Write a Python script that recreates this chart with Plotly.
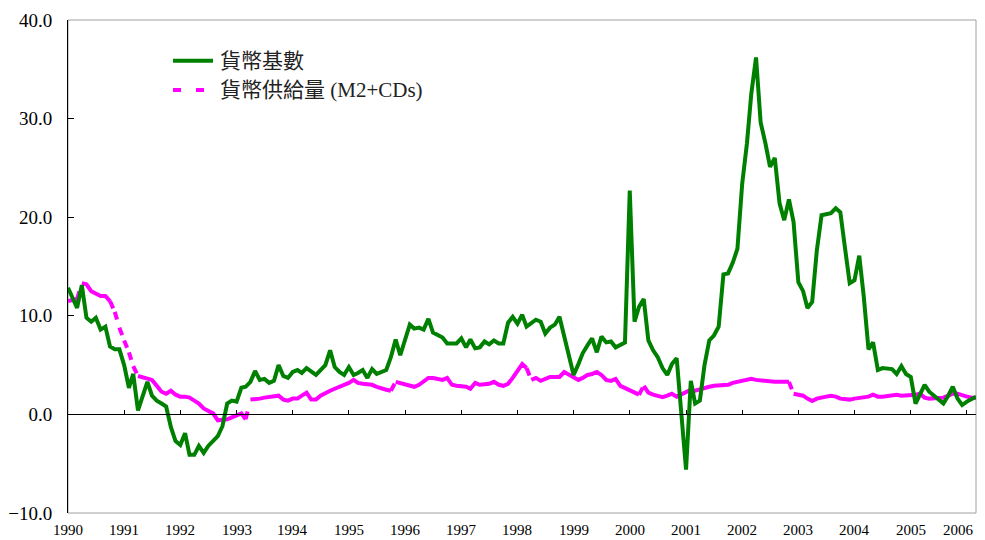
import math
import pandas as pd
import plotly.graph_objects as go

# ---------------- data (monthly, Jan 1990 - Mar 2006, % yoy) ----------------
base_money = [
    12.85, 11.8, 10.8, 13.1, 9.8, 9.4, 9.8, 8.6, 8.9, 6.9, 6.6, 6.6,          # 1990
    5.0, 2.7, 4.1, 0.4, 1.9, 3.3, 1.9, 1.4, 1.1, 0.8, -1.3, -2.7,             # 1991
    -3.1, -1.9, -4.1, -4.1, -3.2, -3.9, -3.2, -2.7, -2.2, -1.2, 1.1, 1.4,    # 1992
    1.3, 2.7, 2.8, 3.3, 4.4, 3.5, 3.6, 3.2, 3.4, 5.0, 3.9, 3.7,              # 1993
    4.3, 4.5, 4.2, 4.7, 4.3, 4.0, 4.5, 5.0, 6.5, 4.8, 4.3, 4.0,              # 1994
    4.8, 4.0, 4.2, 4.5, 3.7, 4.6, 4.1, 4.3, 4.5, 5.8, 7.6, 6.0,              # 1995
    7.6, 9.1, 8.7, 8.8, 8.6, 9.7, 8.3, 8.0, 7.8, 7.2, 7.2, 7.2,              # 1996
    7.7, 6.8, 7.6, 6.7, 6.8, 7.4, 7.1, 7.5, 7.2, 7.2, 9.3, 9.9,              # 1997
    9.2, 10.1, 8.9, 9.3, 9.6, 9.4, 8.2, 8.8, 9.1, 9.9, 7.9, 5.9,             # 1998
    4.0, 5.1, 6.2, 7.0, 7.7, 6.3, 7.9, 7.3, 7.4, 6.8, 7.0, 7.3,              # 1999
    22.7, 9.4, 10.9, 11.7, 7.5, 6.5, 5.8, 4.7, 4.0, 5.1, 5.7, 0.1,           # 2000
    -5.6, 3.4, 1.1, 1.4, 5.0, 7.5, 8.0, 8.9, 14.2, 14.3, 15.4, 16.8,         # 2001
    23.4, 27.5, 32.5, 36.2, 29.6, 27.5, 25.1, 26.0, 21.4, 19.7, 21.8, 19.5,  # 2002
    13.4, 12.5, 10.8, 11.4, 16.6, 20.2, 20.3, 20.4, 20.9, 20.5, 16.8, 13.3,  # 2003
    13.6, 16.1, 12.0, 6.6, 7.3, 4.5, 4.7, 4.6, 4.6, 4.1, 4.9, 4.1,           # 2004
    3.8, 1.1, 2.0, 3.0, 2.3, 1.9, 1.4, 1.1, 1.9, 2.8, 1.6, 0.95,             # 2005
    1.3, 1.6, 1.8,                                                            # 2006
]

m2_cds = [
    11.5, 11.6, 11.7, 13.3, 13.2, 12.5, 12.2, 12.0, 12.0, 11.5, 10.4, 8.8,   # 1990
    7.5, 6.3, 4.9, 3.9, 3.8, 3.7, 3.5, 2.9, 2.3, 2.1, 2.4, 2.0,              # 1991
    1.8, 1.8, 1.7, 1.4, 1.1, 0.6, 0.4, 0.1, -0.6, -0.6, -0.5, -0.3,          # 1992
    -0.1, 0.1, -0.5, 1.5, 1.5, 1.6, 1.7, 1.8, 1.9, 1.9, 1.5, 1.4,            # 1993
    1.6, 1.6, 1.9, 2.2, 1.5, 1.5, 1.9, 2.2, 2.4, 2.6, 2.8, 2.9,              # 1994
    3.2, 3.5, 3.2, 3.1, 3.1, 3.0, 2.8, 2.6, 2.5, 2.4, 3.3, 3.2,              # 1995
    3.0, 2.9, 2.8, 3.0, 3.3, 3.7, 3.7, 3.6, 3.5, 3.7, 3.0, 2.9,              # 1996
    2.9, 2.8, 2.6, 3.2, 3.0, 3.0, 3.1, 3.3, 3.0, 2.9, 3.1, 3.7,              # 1997
    4.4, 5.1, 4.7, 3.5, 3.7, 3.4, 3.6, 3.8, 3.8, 3.8, 4.3, 4.0,              # 1998
    3.7, 3.5, 3.7, 4.0, 4.1, 4.3, 4.0, 3.5, 3.4, 3.6, 2.9, 2.7,              # 1999
    2.5, 2.2, 2.0, 2.9, 2.2, 2.0, 1.9, 1.75, 1.9, 2.1, 1.8, 2.0,             # 2000
    2.3, 2.5, 2.4, 2.5, 2.7, 2.8, 2.9, 2.9, 2.9, 3.0, 3.2, 3.3,              # 2001
    3.45, 3.6, 3.6, 3.5, 3.45, 3.4, 3.3, 3.3, 3.3, 3.3, 3.3, 2.1,            # 2002
    2.0, 1.9, 1.6, 1.35, 1.6, 1.75, 1.8, 1.9, 1.8, 1.6, 1.5, 1.5,            # 2003
    1.6, 1.7, 1.8, 1.8, 2.0, 1.8, 1.8, 1.9, 2.0, 2.0, 1.9, 1.9,              # 2004
    1.9, 2.0, 2.1, 1.7, 1.6, 1.65, 1.7, 1.7, 1.9, 2.1, 2.1, 1.9,             # 2005
    1.8, 1.7, 1.7,                                                            # 2006
]

year_labels = [str(y) for y in range(1990, 2007)]
y_ticks = [-10, 0, 10, 20, 30, 40]

name_base = "貨幣基數"
name_m2 = "貨幣供給量 (M2+CDs)"

# ---------------- styling ----------------
GREEN = "#008000"
MAGENTA = "#ff00ff"
PAGE_OFF = 8                      # default body margin of the html page
W, H = 985 - PAGE_OFF, 540 - PAGE_OFF
ML, MT = 68 - PAGE_OFF, 20 - PAGE_OFF
PW, PH = 908, 493
MR, MB = W - ML - PW, H - MT - PH
Y_MIN, Y_MAX = -10, 40
DASH = "8px,15px"
DASH_ON = 8

dates = pd.date_range("1990-01-01", periods=len(base_money), freq="MS")
x_range = [dates[0], dates[-1]]
tick_dates = [f"{y}-01-01" for y in year_labels]

fig = go.Figure()

# M2+CDs line: dash pattern restarts on each segment (long jumps show gaps)
month_px = PW / (len(m2_cds) - 1)
unit_px = PH / (Y_MAX - Y_MIN)
start = 0
n = len(m2_cds)


def add_piece(i0, i1, dashed):
    fig.add_trace(go.Scatter(
        x=dates[i0:i1 + 1], y=m2_cds[i0:i1 + 1], mode="lines",
        line=dict(color=MAGENTA, width=4, dash=DASH if dashed else "solid"),
        showlegend=False, hoverinfo="skip"))


for k in range(n - 1):
    seg = math.hypot(month_px, (m2_cds[k + 1] - m2_cds[k]) * unit_px)
    if seg > DASH_ON + 2:
        if k > start:
            add_piece(start, k, False)
        add_piece(k, k + 1, True)
        start = k + 1
if start < n - 1:
    add_piece(start, n - 1, False)

# Monetary base
fig.add_trace(go.Scatter(
    x=dates, y=base_money, mode="lines",
    line=dict(color=GREEN, width=4), showlegend=False, hoverinfo="skip"))

# invisible anchor trace for the zero-line axis
fig.add_trace(go.Scatter(
    x=[dates[0]], y=[0], xaxis="x2", mode="markers",
    marker=dict(opacity=0), showlegend=False, hoverinfo="skip"))

serif = "Liberation Serif, Times New Roman, serif"

fig.update_layout(
    width=W, height=H,
    margin=dict(l=ML, r=MR, t=MT, b=MB),
    paper_bgcolor="white", plot_bgcolor="white",
    showlegend=False,
    xaxis=dict(
        type="date", range=x_range, tickvals=tick_dates,
        showticklabels=False,
        ticks="", showline=False, showgrid=False, zeroline=False,
        automargin=False,
    ),
    xaxis2=dict(
        type="date", range=x_range, overlaying="x", anchor="free",
        position=(0 - Y_MIN) / (Y_MAX - Y_MIN), side="bottom",
        tickvals=tick_dates, ticks="inside", ticklen=4, tickcolor="black",
        showticklabels=False, showline=True, linecolor="black", linewidth=1,
        showgrid=False, zeroline=False, automargin=False,
    ),
    yaxis=dict(
        range=[Y_MIN, Y_MAX], tickvals=y_ticks, tickformat=".1f",
        ticks="inside", ticklen=6, tickcolor="black",
        showline=True, linecolor="black", linewidth=1,
        showgrid=False, zeroline=False,
        tickfont=dict(family=serif, size=19, color="black"),
        ticklabelstandoff=11, automargin=False,
    ),
)

# year labels under the plot area (the last one kept inside the right edge)
for idx, (d, lab) in enumerate(zip(tick_dates, year_labels)):
    last = idx == len(year_labels) - 1
    fig.add_annotation(x=d, xref="x", y=0, yref="paper", text=lab,
                       showarrow=False, xanchor="right" if last else "center",
                       xshift=9 if last else 0, yanchor="top",
                       yshift=-7, font=dict(family=serif, size=15, color="black"))

# plot-area frame (gray) drawn below; left axis line stays black
fig.add_shape(type="rect", xref="paper", yref="paper", x0=0, y0=0, x1=1, y1=1,
              line=dict(color="#a0a0a0", width=1), layer="below")

# manual legend (positions given in page pixels)
lx0, lx1 = (173 - 68) / PW, (213 - 68) / PW
ly1, ly2 = (513 - 60.7) / PH, (513 - 90) / PH
tx = (218 - 68) / PW
fig.add_shape(type="line", xref="paper", yref="paper", x0=lx0, x1=lx1, y0=ly1, y1=ly1,
              line=dict(color=GREEN, width=4))
fig.add_shape(type="line", xref="paper", yref="paper", x0=lx0, x1=lx1, y0=ly2, y1=ly2,
              line=dict(color=MAGENTA, width=4, dash=DASH))
legend_font = dict(family="Liberation Serif, Noto Sans CJK TC, serif", size=21, color="#222222")
for yy, txt in [(ly1, name_base), (ly2, name_m2)]:
    fig.add_annotation(x=tx, y=yy, xref="paper", yref="paper", text=txt,
                       showarrow=False, xanchor="left", yanchor="middle",
                       font=legend_font)

fig.write_html("out.html")
